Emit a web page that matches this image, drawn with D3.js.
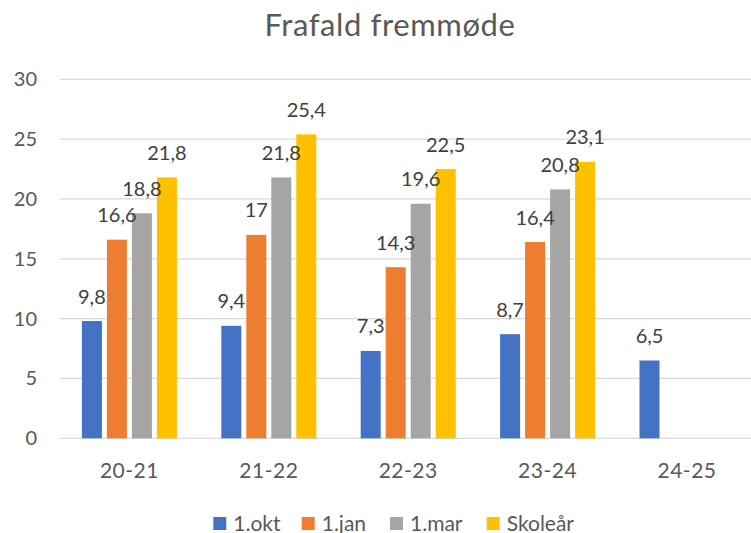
<!DOCTYPE html>
<html>
<head>
<meta charset="utf-8">
<script src="https://cdn.jsdelivr.net/npm/d3@7"></script>
<style>
  body { margin: 0; background: #fff; }
  svg { display: block; font-family: Lato, "Open Sans", sans-serif; }
</style>
</head>
<body>
<svg width="751" height="533"></svg>
<script>
const years = ["20-21", "21-22", "22-23", "23-24", "24-25"];
const seriesNames = ["1.okt", "1.jan", "1.mar", "Skoleår"];
const okt = [9.8, 9.4, 7.3, 8.7, 6.5];
const jan = [16.6, 17, 14.3, 16.4, null];
const mar = [18.8, 21.8, 19.6, 20.8, null];
const skolear = [21.8, 25.4, 22.5, 23.1, null];
const yTicks = [0, 5, 10, 15, 20, 25, 30];
const colors = ["#4472C4", "#ED7D31", "#A5A5A5", "#FFC000"];

const allSeries = [okt, jan, mar, skolear];

const svg = d3.select("svg");

const x = d3.scaleBand().domain(years).range([59.7, 756.7]);
const xInner = d3.scaleBand().domain(seriesNames).range([-50, 50])
  .paddingInner(0.2).paddingOuter(0.1);
const y = d3.scaleLinear().domain([0, 30]).range([438.3, 79.3]);

// title
svg.append("text")
  .attr("x", 390).attr("y", 36)
  .attr("text-anchor", "middle")
  .style("font-size", "31px")
  .style("letter-spacing", "0.6px")
  .style("fill", "#595959")
  .text("Frafald fremmøde");

// gridlines
svg.append("g").selectAll("line")
  .data(yTicks)
  .join("line")
  .attr("x1", 60).attr("x2", 751)
  .attr("y1", d => y(d)).attr("y2", d => y(d))
  .attr("stroke", "#D9D9D9")
  .attr("stroke-width", 1.3);

// y axis labels
const yAxis = d3.axisLeft(y).tickValues(yTicks).tickSize(0).tickPadding(0);
svg.append("g")
  .attr("transform", "translate(37,0)")
  .call(yAxis)
  .call(g => g.select(".domain").remove())
  .call(g => g.selectAll("text")
    .style("font-size", "20px")
    .style("font-family", "Lato, sans-serif")
    .attr("fill", "#595959"));

// x axis labels
const xAxis = d3.axisBottom(x).tickSize(0).tickPadding(0);
svg.append("g")
  .attr("transform", "translate(0,461)")
  .call(xAxis)
  .call(g => g.select(".domain").remove())
  .call(g => g.selectAll("text")
    .attr("dy", "0.8em")
    .style("font-size", "21px")
    .style("letter-spacing", "0.5px")
    .style("font-family", "Lato, sans-serif")
    .attr("fill", "#595959"));

// bars
const rows = [];
allSeries.forEach((vals, i) => {
  vals.forEach((v, j) => {
    if (v != null) rows.push({ series: seriesNames[i], year: years[j], value: v, color: colors[i] });
  });
});

svg.append("g").selectAll("rect")
  .data(rows)
  .join("rect")
  .attr("x", d => x(d.year) + x.bandwidth() / 2 + xInner(d.series))
  .attr("width", xInner.bandwidth())
  .attr("y", d => y(d.value))
  .attr("height", d => y(0) - y(d.value))
  .attr("fill", d => d.color);

// data labels
svg.append("g").selectAll("text")
  .data(rows)
  .join("text")
  .attr("x", d => x(d.year) + x.bandwidth() / 2 + xInner(d.series) + xInner.bandwidth() / 2)
  .attr("y", d => y(d.value) - 17.5)
  .attr("text-anchor", "middle")
  .style("font-size", "20px")
  .style("fill", "#404040")
  .text(d => String(d.value).replace(".", ","));

// legend
const legendX = [213.3, 301.7, 390, 486.7];
const legend = svg.append("g").selectAll("g")
  .data(seriesNames)
  .join("g")
  .attr("transform", (d, i) => `translate(${legendX[i]},517)`);
legend.append("rect")
  .attr("width", 13).attr("height", 13)
  .attr("fill", (d, i) => colors[i]);
legend.append("text")
  .attr("x", 20).attr("y", 13.5)
  .style("font-size", "21px")
  .style("fill", "#595959")
  .text(d => d);
</script>
</body>
</html>
